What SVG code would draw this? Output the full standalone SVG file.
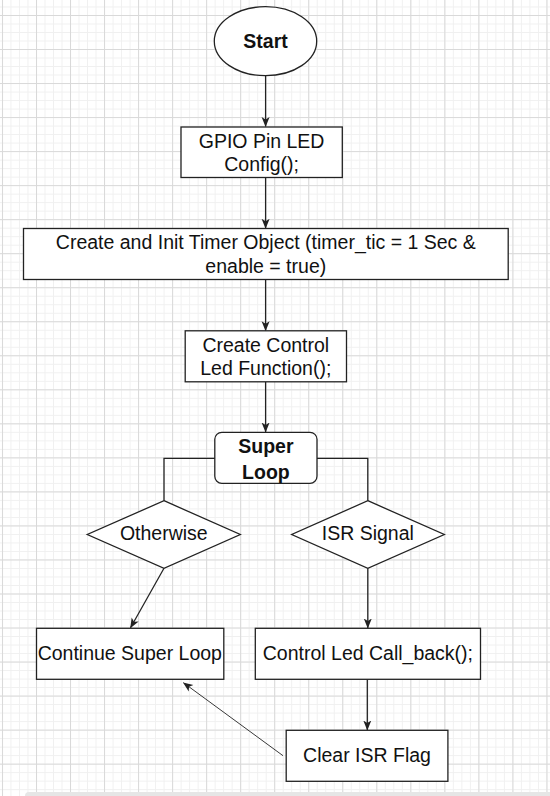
<svg xmlns="http://www.w3.org/2000/svg" width="550" height="796" viewBox="0 0 550 796">
<defs>
<pattern id="minor" x="1.97" y="15" width="8.5075" height="8.5075" patternUnits="userSpaceOnUse">
<path d="M0 0.5H8.5075M0.5 0V8.5075" fill="none" stroke="#f0f0f0" stroke-width="1"/>
</pattern>
<pattern id="major" x="1.97" y="15" width="34.03" height="34.03" patternUnits="userSpaceOnUse">
<path d="M0 0.5H34.03M0.5 0V34.03" fill="none" stroke="#d9d9d9" stroke-width="1"/>
</pattern>
<marker id="arr" viewBox="0 0 10 10" refX="9.5" refY="5" markerWidth="10" markerHeight="10" markerUnits="userSpaceOnUse" orient="auto">
<path d="M0 1L10 5L0 9L2.5 5Z" fill="#222"/>
</marker>
</defs>
<style>
.n{fill:#fff;stroke:#222;stroke-width:1.3}
.t{font-family:"Liberation Sans",Arial,sans-serif;font-size:19.5px;fill:#111;text-anchor:middle}
.b{font-weight:bold}
.c{fill:none;stroke:#222;stroke-width:1.3}
.thin{stroke-width:0.9}
</style>
<rect width="550" height="796" fill="#fff"/>
<rect width="550" height="796" fill="url(#minor)"/>
<rect width="550" height="796" fill="url(#major)"/>
<rect x="25" y="792" width="540" height="10" rx="4" fill="#e6e6e6"/>

<g id="connectors">
<path class="c" d="M265.6 75.7V126.5" marker-end="url(#arr)"/>
<path class="c" d="M265.6 177.5V228.3" marker-end="url(#arr)"/>
<path class="c" d="M265.6 279.5V330.7" marker-end="url(#arr)"/>
<path class="c" d="M265.6 382V432" marker-end="url(#arr)"/>
<path class="c" d="M215 458.3H164V500.7"/>
<path class="c" d="M317 458.3H367.8V500.7"/>
<path class="c" d="M164 568.3L130.5 627.8" marker-end="url(#arr)"/>
<path class="c" d="M367.8 568.3V628" marker-end="url(#arr)"/>
<path class="c" d="M367.3 679.5V730" marker-end="url(#arr)"/>
<path class="c thin" d="M283 755.7L183.4 682.7" marker-end="url(#arr)"/>
</g>

<g id="start">
<ellipse class="n" cx="265.5" cy="41.2" rx="51.2" ry="34.5"/>
<text class="t b" x="265.5" y="47.7">Start</text>
</g>
<g id="gpio">
<rect class="n" x="181" y="127" width="161.3" height="50.5"/>
<text class="t" x="261.6" y="147.8">GPIO Pin LED</text>
<text class="t" x="261.6" y="171">Config();</text>
</g>
<g id="timer">
<rect class="n" x="23.5" y="228.5" width="484.7" height="51"/>
<text class="t" x="265.8" y="249.3">Create and Init Timer Object (timer_tic = 1 Sec &amp;</text>
<text class="t" x="265.8" y="272.7">enable = true)</text>
</g>
<g id="ctrlfn">
<rect class="n" x="185.2" y="330.8" width="161.3" height="51"/>
<text class="t" x="265.8" y="351.8">Create Control</text>
<text class="t" x="265.8" y="374.5">Led Function();</text>
</g>
<g id="superloop">
<rect class="n" x="214.8" y="432.3" width="102.2" height="51" rx="7"/>
<text class="t b" x="265.9" y="452.5">Super</text>
<text class="t b" x="265.9" y="478.5">Loop</text>
</g>
<g id="otherwise">
<path class="n" d="M164 500.7L240.3 534.5L164 568.3L87.3 534.5Z"/>
<text class="t" x="163.8" y="540.2">Otherwise</text>
</g>
<g id="isr">
<path class="n" d="M367.8 500.7L444.3 534.5L367.8 568.3L291.7 534.5Z"/>
<text class="t" x="367.8" y="540.2">ISR Signal</text>
</g>
<g id="continue">
<rect class="n" x="36.5" y="628.3" width="187.3" height="51"/>
<text class="t" x="129.8" y="660.2">Continue Super Loop</text>
</g>
<g id="callback">
<rect class="n" x="255.3" y="628.3" width="225.2" height="51"/>
<text class="t" x="367.9" y="660.2">Control Led Call_back();</text>
</g>
<g id="clear">
<rect class="n" x="286.2" y="730.3" width="161.7" height="51"/>
<text class="t" x="367" y="762.3">Clear ISR Flag</text>
</g>
</svg>
